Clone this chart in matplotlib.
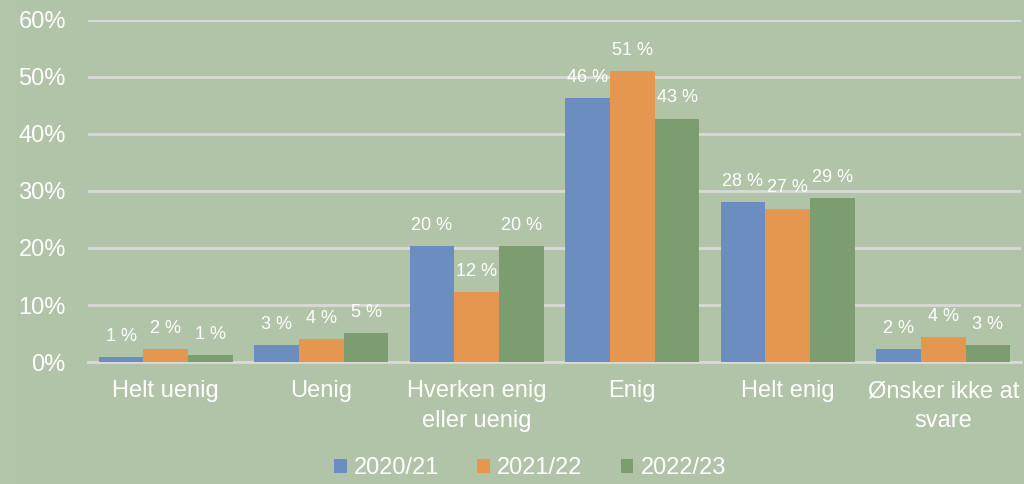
import matplotlib
matplotlib.use("Agg")
import matplotlib.pyplot as plt
import numpy as np
from matplotlib.patches import Rectangle

categories = ["Helt uenig", "Uenig", "Hverken enig\neller uenig", "Enig", "Helt enig", "Ønsker ikke at\nsvare"]
series_names = ["2020/21", "2021/22", "2022/23"]
v2020 = [0.9, 3.0, 20.3, 46.3, 28.0, 2.2]
v2021 = [2.3, 4.0, 12.3, 51.0, 26.9, 4.4]
v2022 = [1.2, 5.1, 20.3, 42.7, 28.7, 3.0]
yticks = [0, 10, 20, 30, 40, 50, 60]

colors = ["#6b8dbf", "#e6974f", "#7c9d6f"]
bg = "#b2c4a8"

plt.rcParams['font.family'] = ['Liberation Sans', 'DejaVu Sans']

fig = plt.figure(figsize=(10.24, 4.84), dpi=100, facecolor=bg)
fig.patches.append(Rectangle((0, 0), 0.017, 1, transform=fig.transFigure, facecolor="#b4c6aa", edgecolor="none", zorder=0))
ax = fig.add_axes([0.086, 0.252, 0.911, 0.707])
ax.set_facecolor(bg)

x = np.arange(len(categories))
w = 0.288
for i, (vals, c, name) in enumerate(zip([v2020, v2021, v2022], colors, series_names)):
    xs = x + (i - 1) * w
    ax.bar(xs, vals, width=w, color=c, label=name, zorder=3)
    for xi, v in zip(xs, vals):
        ax.annotate(f"{round(v)} %", (xi, v), xytext=(0, 15), textcoords="offset points",
                    ha="center", va="center", color="white", fontsize=13)

ax.set_ylim(0, 60)
ax.set_xlim(-0.5, len(categories) - 0.5)
ax.set_yticks(yticks)
ax.set_yticklabels([f"{t}%" for t in yticks])
ax.yaxis.grid(True, color="#d9d9d9", linewidth=2, zorder=0)
ax.set_axisbelow(True)
ax.set_xticks(x)
ax.set_xticklabels(categories, linespacing=1.45)
ax.tick_params(axis="y", length=0, pad=16, labelsize=17, labelcolor="white")
ax.tick_params(axis="x", length=0, pad=13, labelsize=17, labelcolor="white")
for s in ["top", "right", "left"]:
    ax.spines[s].set_visible(False)
ax.spines["bottom"].set_color("#d9d9d9")
ax.spines["bottom"].set_linewidth(2)

leg = fig.legend(loc="center", bbox_to_anchor=(530 / 1024, 1 - 468 / 484), ncol=3, frameon=False,
                 fontsize=17, handlelength=0.55, handleheight=0.55, handletextpad=0.3, columnspacing=1.6,
                 labelcolor="white")

fig.savefig("out.png", dpi=100, facecolor=bg)
